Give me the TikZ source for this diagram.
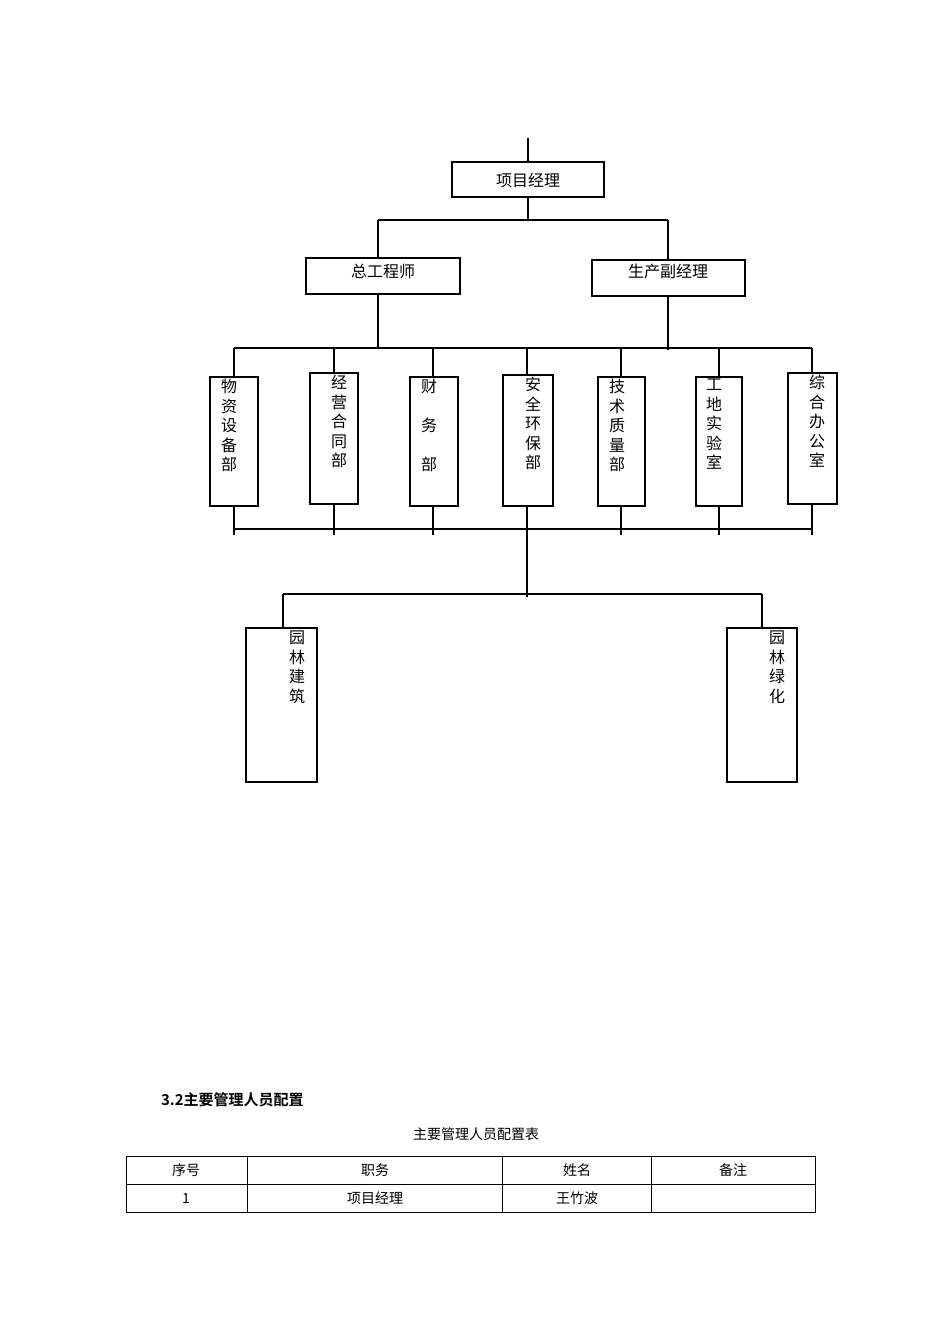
\documentclass[tikz,border=0pt]{standalone}
\usepackage{fontspec}
\setmainfont{Liberation Serif}
\newfontfamily\cjk{Noto Sans CJK SC}
\newfontfamily\cjkb{Noto Sans CJK SC Bold}
\begin{document}
\begin{tikzpicture}[x=1pt,y=-1pt,line width=2.2pt,
  bx/.style={draw,line width=2.2pt},
  tx/.style={font=\cjk\fontsize{16}{20}\selectfont,anchor=north,align=center,inner sep=0pt},
  tl/.style={line width=0.8pt}]
\useasboundingbox (0,0) rectangle (950,1344);
% top
\coordinate (top) at (528,138);
\draw[bx] (452,162) rectangle (604,197);
\node[tx,anchor=center] (pm) at (528,180) {项目经理};
\draw (top) -- (528,162);
\draw (528,197) -- (528,220);
\draw (378,220) -- (668,220);
\draw (378,220) -- (378,258);
\draw (668,220) -- (668,260);
\draw[bx] (306,258) rectangle (460,294);
\node[tx,anchor=center] (zg) at (383,271) {总工程师};
\draw[bx] (592,260) rectangle (745,296);
\node[tx,anchor=center] (sc) at (668,271) {生产副经理};
\draw (378,294) -- (378,348);
\draw (668,296) -- (668,350);
\draw (234,348) -- (812,348);
% department boxes
\foreach \a/\b/\t/\bb/\c/\cx/\txt in {
 210/258/377/506/234/229/{物\\资\\设\\备\\部},
 310/358/373/504/334/339/{经\\营\\合\\同\\部},
 410/458/377/506/433/429/{财\\\\务\\\\部},
 503/553/375/506/527/533/{安\\全\\环\\保\\部},
 598/645/377/506/621/617/{技\\术\\质\\量\\部},
 696/742/377/506/719/714/{工\\地\\实\\验\\室},
 788/837/373/504/812/817/{综\\合\\办\\公\\室}}{
  \draw (\c,348) -- (\c,\t);
  \draw[bx] (\a,\t) rectangle (\b,\bb);
  \node[tx,font=\cjk\fontsize{16}{19.5}\selectfont] at (\cx,\t+1) {\txt};
  \draw (\c,\bb) -- (\c,535);
}
\draw (234,529) -- (812,529);
\draw (527,506) -- (527,597);
\draw (283,594) -- (762,594);
\draw (283,594) -- (283,628);
\draw (762,594) -- (762,628);
\draw[bx] (246,628) rectangle (317,782);
\node[tx,font=\cjk\fontsize{16}{19.5}\selectfont] at (297,630) {园\\林\\建\\筑};
\draw[bx] (727,628) rectangle (797,782);
\node[tx,font=\cjk\fontsize{16}{19.5}\selectfont] at (777,630) {园\\林\\绿\\化};
% heading and table
\node[anchor=west,inner sep=0pt,font=\cjkb\fontsize{15}{18}\selectfont] (h) at (160,1100) {3.2主要管理人员配置};
\node[inner sep=0pt,font=\cjk\fontsize{14}{17}\selectfont] (cap) at (476,1134) {主要管理人员配置表};
\draw[tl] (126,1156) rectangle (815,1212);
\draw[tl] (126,1184) -- (815,1184);
\foreach \x in {247,502,651} \draw[tl] (\x,1156) -- (\x,1212);
\foreach \x/\t in {186/序号,375/职务,577/姓名,733/备注}
  \node[inner sep=0pt,font=\cjk\fontsize{14}{17}\selectfont] at (\x,1170) {\t};
\foreach \x/\t in {186/1,375/项目经理,577/王竹波}
  \node[inner sep=0pt,font=\cjk\fontsize{14}{17}\selectfont] at (\x,1198) {\t};
\end{tikzpicture}
\end{document}
